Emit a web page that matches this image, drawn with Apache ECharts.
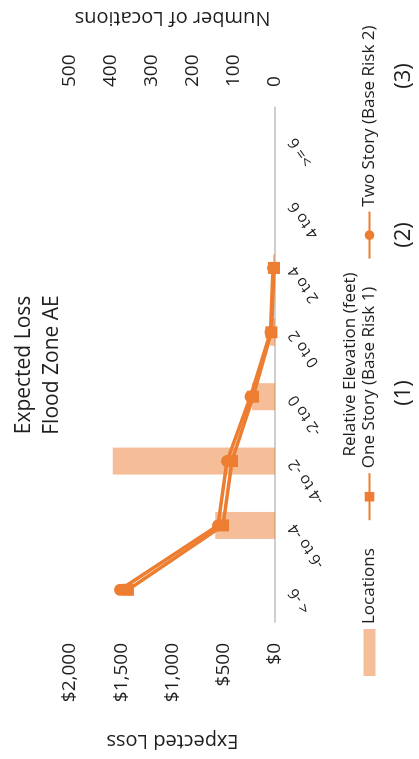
<!DOCTYPE html>
<html>
<head>
<meta charset="utf-8">
<script src="https://cdn.jsdelivr.net/npm/echarts@6/dist/echarts.min.js"></script>
<style>
html,body{margin:0;padding:0;overflow:hidden;background:#fff;width:419px;height:759px;}
#chart{position:absolute;left:0;top:0;width:759px;height:419px;transform-origin:0 0;transform:translate(0,759px) rotate(-90deg);}
</style>
</head>
<body>
<div id="chart"></div>
<script>
const categories = ['< -6', '-6 to -4', '-4 to -2', '-2 to 0', '0 to 2', '2 to 4', '4 to 6', '>= 6'];
const locations = [0, 146, 396, 56, 12, 5, 0, 0];
const oneStory = [1435, 507, 420, 215, 35, 10, null, null];
const twoStory = [1512, 556, 468, 240, 45, 20, null, null];
const lossTicks = [0, 500, 1000, 1500, 2000];
const locationTicks = [0, 100, 200, 300, 400, 500];
const notes = ['(1)', '(2)', '(3)'];

const FONT = 'Open Sans';
const TXT = '#1e1e1e';
const ORANGE = '#ed7d31';

const chart = echarts.init(document.getElementById('chart'), null, {renderer: 'canvas'});
chart.setOption({
  animation: false,
  textStyle: {fontFamily: FONT, color: TXT},
  title: {
    text: 'Expected Loss\nFlood Zone AE',
    left: 389, top: 5, textAlign: 'center',
    textStyle: {fontFamily: FONT, fontSize: 21, fontWeight: 'normal', color: TXT, lineHeight: 28}
  },
  grid: {left: 127, right: 97, top: 70, bottom: 144},
  legend: {
    left: 78, top: 356,
    itemWidth: 47, itemHeight: 12, itemGap: 27,
    textStyle: {fontFamily: FONT, fontSize: 17, color: TXT},
    data: [
      {name: 'Locations', icon: 'rect'},
      'One Story (Base Risk 1)',
      'Two Story (Base Risk 2)'
    ]
  },
  xAxis: {
    type: 'category',
    data: categories,
    name: 'Relative Elevation (feet)',
    nameLocation: 'middle', nameGap: 67,
    nameTextStyle: {fontFamily: FONT, fontSize: 17, color: TXT},
    axisLine: {lineStyle: {color: '#bfbfbf', width: 1.5}},
    axisTick: {show: false},
    axisLabel: {rotate: 35, margin: 17, fontFamily: FONT, fontSize: 15.5, color: TXT, interval: 0}
  },
  yAxis: [
    {
      type: 'value', min: lossTicks[0], max: lossTicks[lossTicks.length - 1], interval: lossTicks[1] - lossTicks[0],
      name: 'Expected Loss', nameLocation: 'middle', nameGap: 109, nameRotate: 90,
      nameTextStyle: {fontFamily: FONT, fontSize: 20, color: TXT},
      axisLine: {show: false}, axisTick: {show: false}, splitLine: {show: false},
      axisLabel: {margin: 21, fontFamily: FONT, fontSize: 19, color: TXT,
        formatter: v => '$' + v.toLocaleString('en-US')}
    },
    {
      type: 'value', position: 'right', min: locationTicks[0], max: locationTicks[locationTicks.length - 1], interval: locationTicks[1] - locationTicks[0],
      name: 'Number of Locations', nameLocation: 'middle', nameGap: 79, nameRotate: 90,
      nameTextStyle: {fontFamily: FONT, fontSize: 20, color: TXT},
      axisLine: {show: false}, axisTick: {show: false}, splitLine: {show: false},
      axisLabel: {margin: 20, fontFamily: FONT, fontSize: 19, color: TXT}
    }
  ],
  series: [
    {
      name: 'Locations', type: 'bar', yAxisIndex: 1, data: locations,
      barWidth: 27, z: 1,
      itemStyle: {color: 'rgba(237,125,49,0.5)'}
    },
    {
      name: 'One Story (Base Risk 1)', type: 'line', yAxisIndex: 0, data: oneStory,
      symbol: 'rect', symbolSize: 12, z: 3,
      lineStyle: {color: ORANGE, width: 3.5},
      itemStyle: {color: ORANGE}
    },
    {
      name: 'Two Story (Base Risk 2)', type: 'line', yAxisIndex: 0, data: twoStory,
      symbol: 'circle', symbolSize: 12, z: 4,
      lineStyle: {color: ORANGE, width: 3.5},
      itemStyle: {color: ORANGE}
    }
  ],
  graphic: [
    {type: 'text', x: 366, y: 404, style: {text: notes[0], fontFamily: FONT, fontSize: 22, fill: TXT, align: 'center', verticalAlign: 'middle'}},
    {type: 'text', x: 524, y: 404, style: {text: notes[1], fontFamily: FONT, fontSize: 22, fill: TXT, align: 'center', verticalAlign: 'middle'}},
    {type: 'text', x: 683, y: 404, style: {text: notes[2], fontFamily: FONT, fontSize: 22, fill: TXT, align: 'center', verticalAlign: 'middle'}}
  ]
});
</script>
</body>
</html>
